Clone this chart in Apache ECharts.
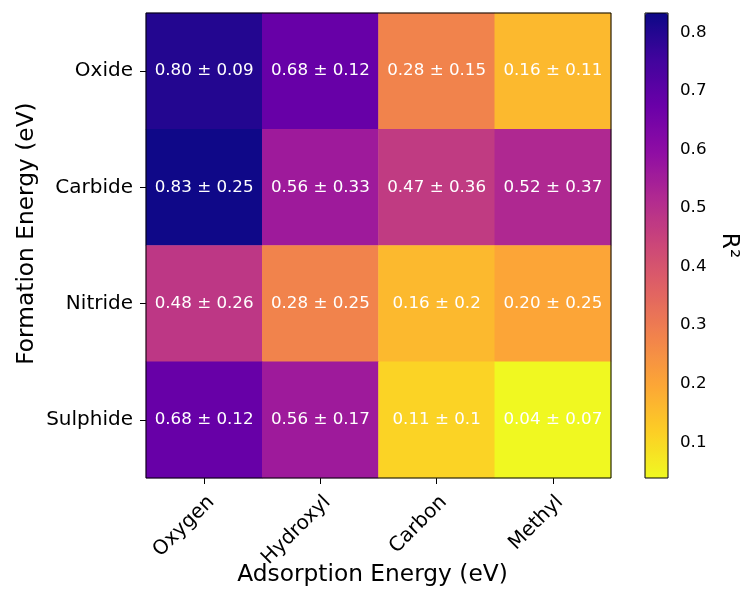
<!DOCTYPE html>
<html>
<head>
<meta charset="utf-8">
<script src="https://cdn.jsdelivr.net/npm/echarts@6/dist/echarts.min.js"></script>
<style>
html,body{margin:0;padding:0;background:#fff;}
#chart{width:742px;height:589px;}
</style>
</head>
<body>
<div id="chart"></div>
<script>
// Categories
const adsorbates = ['Oxygen', 'Hydroxyl', 'Carbon', 'Methyl'];
const materials = ['Oxide', 'Carbide', 'Nitride', 'Sulphide'];
// Mean R^2 per material row (columns follow adsorbates)
const oxideMean = [0.80, 0.68, 0.28, 0.16];
const carbideMean = [0.83, 0.56, 0.47, 0.52];
const nitrideMean = [0.48, 0.28, 0.16, 0.20];
const sulphideMean = [0.68, 0.56, 0.11, 0.04];
// Standard deviations (as printed)
const oxideStd = ['0.09', '0.12', '0.15', '0.11'];
const carbideStd = ['0.25', '0.33', '0.36', '0.37'];
const nitrideStd = ['0.26', '0.25', '0.2', '0.25'];
const sulphideStd = ['0.12', '0.17', '0.1', '0.07'];
// Colorbar
const cbarMin = 0.039;
const cbarMax = 0.833;
const cbarTicks = [0.1, 0.2, 0.3, 0.4, 0.5, 0.6, 0.7, 0.8];

const means = [oxideMean, carbideMean, nitrideMean, sulphideMean];
const stds = [oxideStd, carbideStd, nitrideStd, sulphideStd];
const data = [];
means.forEach((row, yi) => row.forEach((v, xi) => data.push([xi, yi, v, stds[yi][xi]])));

const plasmaR = ['#f0f921', '#fcce25', '#fca636', '#f2844b', '#e16462', '#cc4778',
  '#b12a90', '#8f0da4', '#6a00a8', '#41049d', '#0d0887'];
const FONT = 'DejaVu Sans';

const chart = echarts.init(document.getElementById('chart'), null, {renderer: 'canvas'});
chart.setOption({
  animation: false,
  backgroundColor: '#ffffff',
  textStyle: {fontFamily: FONT},
  grid: [
    {left: 146, top: 13, width: 465, height: 465, show: true, borderColor: '#000', borderWidth: 1, z: 10,
      backgroundColor: 'transparent', containLabel: false, outerBoundsMode: 'none'},
    {left: 645, top: 13, width: 23, height: 465, show: true, borderColor: '#000', borderWidth: 1, z: 10,
      backgroundColor: 'transparent', containLabel: false, outerBoundsMode: 'none'}
  ],
  xAxis: [
    {
      type: 'category', gridIndex: 0, data: adsorbates,
      axisLine: {show: false},
      axisTick: {show: true, alignWithLabel: true, length: 6, lineStyle: {color: '#000'}},
      axisLabel: {rotate: 45, margin: 14, verticalAlign: 'top', fontSize: 20, color: '#000', fontFamily: FONT},
      splitLine: {show: false},
      name: 'Adsorption Energy (eV)', nameLocation: 'middle', nameGap: 85, nameMoveOverlap: false,
      nameTextStyle: {fontSize: 23.3, color: '#000', fontFamily: FONT, padding: [0, 12, 0, 0]}
    },
    {type: 'value', gridIndex: 1, show: false, min: 0, max: 1}
  ],
  yAxis: [
    {
      type: 'category', gridIndex: 0, data: materials, inverse: true,
      axisLine: {show: false},
      axisTick: {show: true, alignWithLabel: true, length: 6, lineStyle: {color: '#000'}},
      axisLabel: {margin: 13, fontSize: 20, color: '#000', fontFamily: FONT},
      splitLine: {show: false},
      name: 'Formation Energy (eV)', nameLocation: 'middle', nameGap: 108, nameMoveOverlap: false,
      nameTextStyle: {fontSize: 23.3, color: '#000', fontFamily: FONT, padding: [0, 0, 0, 24]}
    },
    {
      type: 'value', gridIndex: 1, position: 'right', min: cbarMin, max: cbarMax,
      axisLine: {show: false},
      axisTick: {show: true, length: 6, customValues: cbarTicks, lineStyle: {color: '#000'}},
      axisLabel: {margin: 12, fontSize: 16.7, color: '#000', fontFamily: FONT, customValues: cbarTicks,
        formatter: v => v.toFixed(1)},
      splitLine: {show: false},
      name: 'R²', nameLocation: 'middle', nameGap: 50, nameRotate: -90, nameMoveOverlap: false,
      nameTextStyle: {fontSize: 23.3, color: '#000', fontFamily: FONT}
    }
  ],
  visualMap: {
    type: 'continuous', min: cbarMin, max: cbarMax, seriesIndex: 0, dimension: 2,
    calculable: false, show: true, orient: 'vertical',
    left: 645, top: 13, itemWidth: 23, itemHeight: 465, padding: 0,
    text: null, hoverLink: false,
    inRange: {color: plasmaR}
  },
  series: [{
    type: 'heatmap', xAxisIndex: 0, yAxisIndex: 0,
    data: data,
    itemStyle: {borderWidth: 0},
    label: {
      show: true, color: '#fff', fontSize: 16.7, fontFamily: FONT,
      formatter: p => p.data[2].toFixed(2) + ' \u00b1 ' + p.data[3]
    },
    emphasis: {disabled: true}
  }]
});
</script>
</body>
</html>
